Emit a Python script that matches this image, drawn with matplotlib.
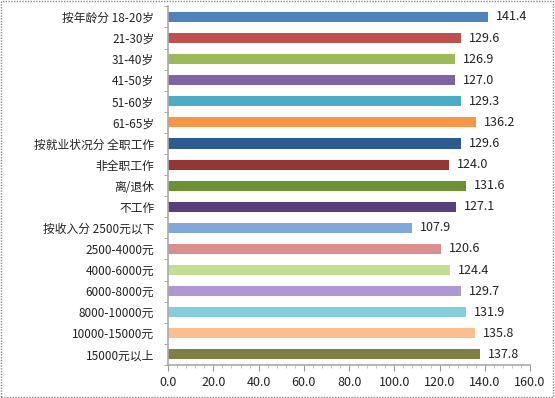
import matplotlib.pyplot as plt
import numpy as np
from matplotlib.patches import Rectangle
from matplotlib.ticker import MultipleLocator

plt.rcParams['font.family'] = ['Noto Sans CJK SC', 'DejaVu Sans']

labels = ["按年龄分 18-20岁", "21-30岁", "31-40岁", "41-50岁", "51-60岁", "61-65岁",
          "按就业状况分 全职工作", "非全职工作", "离/退休", "不工作",
          "按收入分 2500元以下", "2500-4000元", "4000-6000元", "6000-8000元",
          "8000-10000元", "10000-15000元", "15000元以上"]
values = [141.4, 129.6, 126.9, 127.0, 129.3, 136.2,
          129.6, 124.0, 131.6, 127.1,
          107.9, 120.6, 124.4, 129.7, 131.9, 135.8, 137.8]
colors = ["#4F81BD", "#C0504D", "#9BBB59", "#8064A2", "#4BACC6", "#F79646",
          "#2C5A92", "#943634", "#6A9232", "#563F7C",
          "#7FA9DB", "#DA8F8D", "#C3DC96", "#AE97D2", "#84CEDD", "#FDBE8E", "#7F7F45"]

fig = plt.figure(figsize=(5.55, 3.98), dpi=100)
ax = fig.add_axes([0.303, 0.083, 0.652, 0.901])

y = np.arange(len(labels))
ax.barh(y, values, height=0.48, color=colors)
for yi, v in zip(y, values):
    ax.text(v + 3.5, yi, f"{v:.1f}", va='center', ha='left', fontsize=9, color='#222222')

ax.set_ylim(len(labels) - 0.5, -0.5)
ax.set_xlim(0, 160)
ax.set_yticks(y)
ax.set_yticklabels(labels, fontsize=8.5, color='#222222')
ax.set_yticks(np.arange(-0.5, len(labels), 1), minor=True)
ax.tick_params(axis='y', which='major', length=0, pad=10)
ax.tick_params(axis='y', which='minor', length=3, color='#999999')
ax.xaxis.set_minor_locator(MultipleLocator(4))
ax.set_xticks(np.arange(0, 161, 20))
ax.set_xticklabels([f"{t:.1f}" for t in np.arange(0, 161, 20)], fontsize=9, color='#222222')
ax.tick_params(axis='x', which='major', length=4, color='#999999', pad=4)
ax.tick_params(axis='x', which='minor', length=2, color='#bbbbbb')

for s in ['top', 'right']:
    ax.spines[s].set_visible(False)
for s in ['left', 'bottom']:
    ax.spines[s].set_color('#aaaaaa')
    ax.spines[s].set_linewidth(1.2)

fig.patches.append(Rectangle((0.002, 0.003), 0.995, 0.994, transform=fig.transFigure,
                             fill=False, edgecolor='#888888', linestyle=(0, (1, 1)), linewidth=1))

fig.savefig('out.png', dpi=100)
